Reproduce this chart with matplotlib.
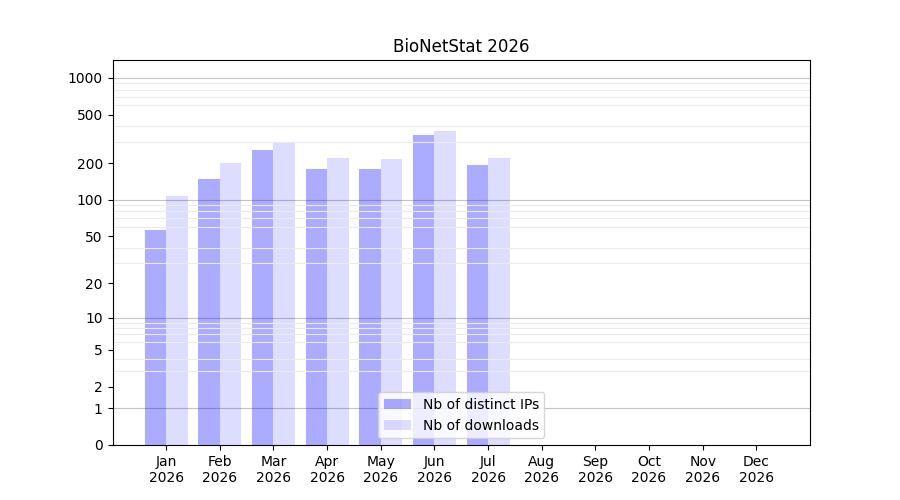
import numpy as np
import matplotlib
matplotlib.use('Agg')
import matplotlib.pyplot as plt

months = ['Jan', 'Feb', 'Mar', 'Apr', 'May', 'Jun', 'Jul', 'Aug', 'Sep', 'Oct', 'Nov', 'Dec']
year = '2026'
distinct_ips = [56, 148, 257, 179, 179, 341, 193]
downloads = [107, 199, 293, 221, 217, 368, 221]

ytick_values = [0, 1, 2, 5, 10, 20, 50, 100, 200, 500, 1000]
decades = [1, 10, 100, 1000]

fig, ax = plt.subplots(figsize=(9, 5), dpi=100)

ax.set_yscale('function', functions=(lambda v: np.log10(np.clip(v, -0.999, None) + 1),
                                      lambda t: 10 ** t - 1))

x_ips = np.arange(len(distinct_ips))
x_dl = np.arange(len(downloads))
width = 0.4

ax.bar(x_ips - width / 2, distinct_ips, width, color='blue', alpha=0.33,
       label='Nb of distinct IPs')
ax.bar(x_dl + width / 2, downloads, width, color='blue', alpha=0.135,
       label='Nb of downloads')

# gridlines: light for 2..9 of each decade, darker at each decade
minor_vals = [m * d for d in [1, 10, 100] for m in range(2, 10)]
ax.set_yticks(minor_vals, minor=True)
ax.tick_params(axis='y', which='minor', length=0)
ax.grid(which='minor', axis='y', color='#ebebeb', linewidth=0.8)
for d in decades:
    ax.axhline(d, color='#c4c4c4', linewidth=0.8, zorder=0.5)

ax.set_yticks(ytick_values)
ax.set_yticklabels([str(v) for v in ytick_values])
ax.set_ylim(0, 1400)

ax.set_xticks(np.arange(len(months)))
ax.set_xticklabels([f'{m}\n{year}' for m in months])
ax.set_xlim(-1, len(months))

ax.set_title('BioNetStat 2026')
ax.legend(loc='lower center')

plt.savefig('out.png', dpi=100)
